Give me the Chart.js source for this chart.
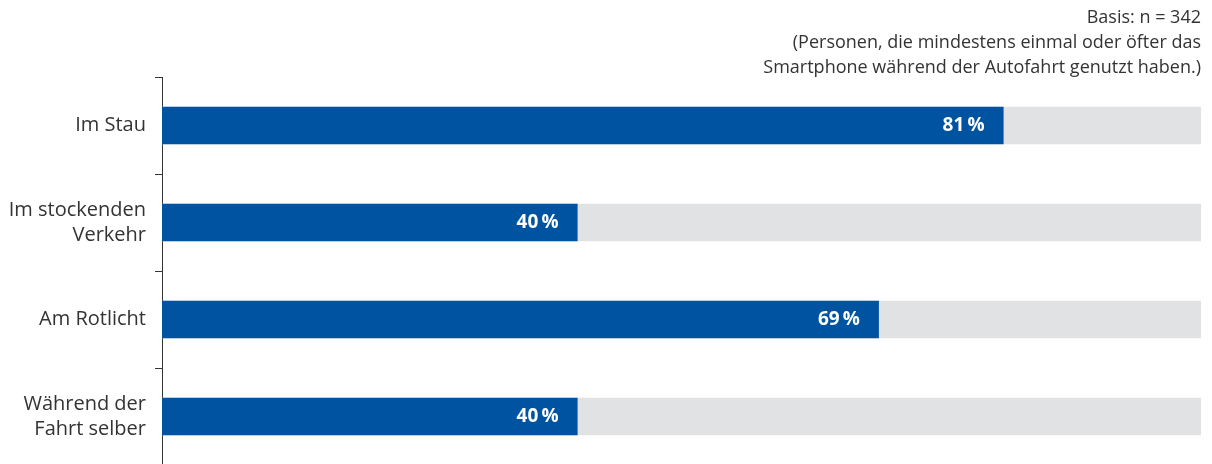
<!DOCTYPE html>
<html>
<head>
<meta charset="utf-8">
<script src="https://cdn.jsdelivr.net/npm/chart.js@4"></script>
<style>
    html, body { margin: 0; padding: 0; background: #fff; overflow: hidden; }
    canvas { display: block; }
</style>
</head>
<body>
<canvas id="situations-chart" width="1212" height="470"></canvas>
<script>
const categories = [
    'Im Stau',
    ['Im stockenden', 'Verkehr'],
    'Am Rotlicht',
    ['Während der', 'Fahrt selber']
];
const shares = [81, 40, 69, 40];
const full = [100, 100, 100, 100];
const note_lines = [
    'Basis: n = 342',
    '(Personen, die mindestens einmal oder öfter das',
    'Smartphone während der Autofahrt genutzt haben.)'
];

const blue = '#0053a0';
const grey = '#e1e2e4';
const text_color = '#333333';
const font_family = '"Open Sans", "Liberation Sans", Arial, sans-serif';

// value labels inside the end of each blue bar
const value_labels = {
    id: 'value_labels',
    afterDatasetsDraw(chart) {
        const ctx = chart.ctx;
        const meta = chart.getDatasetMeta(0);
        ctx.save();
        ctx.fillStyle = '#ffffff';
        ctx.font = 'bold 19px ' + font_family;
        ctx.textAlign = 'right';
        ctx.textBaseline = 'middle';
        meta.data.forEach((bar, i) => {
            ctx.fillText(shares[i] + '\u2009%', bar.x - 19, bar.y);
        });
        ctx.restore();
    }
};

// note in the top right corner
const base_note = {
    id: 'base_note',
    afterDraw(chart) {
        const ctx = chart.ctx;
        ctx.save();
        ctx.fillStyle = text_color;
        ctx.font = '18px ' + font_family;
        ctx.textAlign = 'right';
        ctx.textBaseline = 'middle';
        note_lines.forEach((line, i) => {
            ctx.fillText(line, 1201, 18 + i * 25);
        });
        ctx.restore();
    }
};

const ctx = document.getElementById('situations-chart').getContext('2d');
const chart = new Chart(ctx, {
    type: 'bar',
    data: {
        labels: categories,
        datasets: [{
            label: 'Anteil',
            data: shares,
            backgroundColor: blue,
            grouped: false,
            barPercentage: 0.385,
            categoryPercentage: 1
        }, {
            label: 'Gesamt',
            data: full,
            backgroundColor: grey,
            grouped: false,
            barPercentage: 0.385,
            categoryPercentage: 1
        }]
    },
    options: {
        indexAxis: 'y',
        responsive: false,
        animation: false,
        layout: {
            padding: { top: 77, right: 11, bottom: 5, left: 0 }
        },
        plugins: {
            legend: { display: false },
            tooltip: { enabled: false }
        },
        scales: {
            x: {
                display: false,
                min: 0,
                max: 100
            },
            y: {
                afterFit(scale) {
                    scale.width = 162;
                    scale.paddingTop = 0;
                    scale.paddingBottom = 0;
                },
                grid: {
                    offset: true,
                    drawOnChartArea: false,
                    tickLength: 7,
                    color: text_color
                },
                border: { display: true, color: text_color, width: 1 },
                ticks: {
                    color: text_color,
                    padding: 9,
                    font: { family: font_family, size: 20, lineHeight: 1.25 }
                }
            }
        }
    },
    plugins: [value_labels, base_note]
});
</script>
</body>
</html>
